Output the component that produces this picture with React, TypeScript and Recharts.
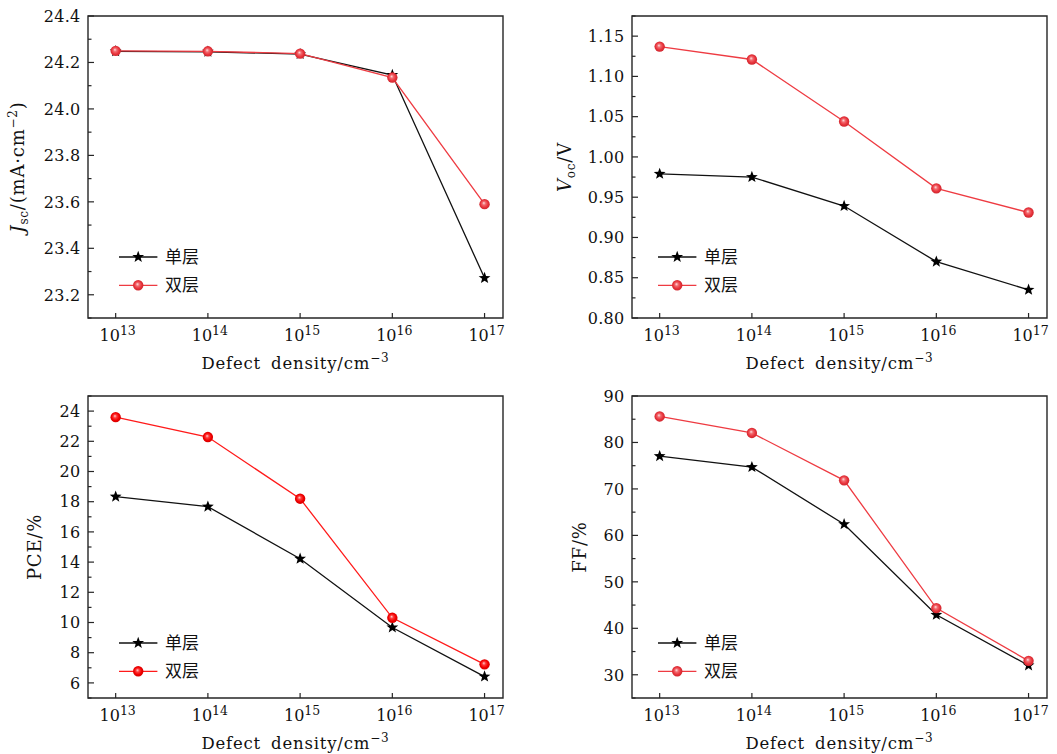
import React from 'react';
import { LineChart, Line, XAxis, YAxis, ReferenceArea, Legend } from 'recharts';

// ---------- data ----------
const exponents = [13, 14, 15, 16, 17];
const seriesNames = ['单层', '双层'];

const jscSingle = [24.248, 24.246, 24.236, 24.146, 23.272];
const jscDouble = [24.25, 24.248, 24.238, 24.135, 23.59];
const vocSingle = [0.979, 0.975, 0.939, 0.87, 0.835];
const vocDouble = [1.137, 1.121, 1.044, 0.961, 0.931];
const pceSingle = [18.33, 17.67, 14.22, 9.67, 6.42];
const pceDouble = [23.6, 22.28, 18.2, 10.31, 7.23];
const ffSingle = [77.05, 74.7, 62.4, 42.9, 32.0];
const ffDouble = [85.6, 82.05, 71.85, 44.35, 33.0];

const jscMajor = [23.2, 23.4, 23.6, 23.8, 24.0, 24.2, 24.4];
const jscMinor = [23.1, 23.3, 23.5, 23.7, 23.9, 24.1, 24.3];
const vocMajor = [0.8, 0.85, 0.9, 0.95, 1.0, 1.05, 1.1, 1.15];
const vocMinor = [0.825, 0.875, 0.925, 0.975, 1.025, 1.075, 1.125, 1.175];
const pceMajor = [6, 8, 10, 12, 14, 16, 18, 20, 22, 24];
const pceMinor = [5, 7, 9, 11, 13, 15, 17, 19, 21, 23, 25];
const ffMajor = [30, 40, 50, 60, 70, 80, 90];
const ffMinor = [25, 35, 45, 55, 65, 75, 85];

const xDomain = [12.7, 17.2];

// ---------- styles ----------
const SERIF = "'DejaVu Serif', 'Liberation Serif', serif";
const CJK = "'Noto Sans CJK SC', sans-serif";
const AXIS = '#262626';

const starPath = (cx: number, cy: number, R: number, r: number) => {
  let d = '';
  for (let i = 0; i < 10; i++) {
    const a = -Math.PI / 2 + (i * Math.PI) / 5;
    const rad = i % 2 === 0 ? R : r;
    d += (i === 0 ? 'M' : 'L') + (cx + rad * Math.cos(a)).toFixed(2) + ',' + (cy + rad * Math.sin(a)).toFixed(2);
  }
  return d + 'Z';
};

const Star = ({ cx, cy }: any) => <path d={starPath(cx, cy, 6.2, 2.6)} fill="#000" />;
const Ball = ({ cx, cy, grad }: any) => <circle cx={cx} cy={cy} r={5.2} fill={`url(#${grad})`} />;

const makeYTick = (majors: number[], decimals: number) => (p: any) => {
  const v = p.payload.value;
  const isMajor = majors.some((m) => Math.abs(m - v) < 1e-6);
  return (
    <g key={`yt-${v}`}>
      <line x1={p.x} x2={p.x + (isMajor ? 6 : 3.5)} y1={p.y} y2={p.y} stroke={AXIS} strokeWidth={1.2} />
      {isMajor && (
        <text x={p.x - 7.5} y={p.y} dy="0.36em" textAnchor="end" fontFamily={SERIF} fontSize={16} letterSpacing={0.3} fill="#111">
          {v.toFixed(decimals)}
        </text>
      )}
    </g>
  );
};

const renderXTick = (p: any) => {
  const v = p.payload.value;
  return (
    <g key={`xt-${v}`}>
      <line x1={p.x} x2={p.x} y1={p.y} y2={p.y - 5} stroke={AXIS} strokeWidth={1.2} />
      <text x={p.x + 2} y={p.y + 23} textAnchor="middle" fontFamily={SERIF} fontSize={16} fill="#111">
        <tspan>10</tspan>
        <tspan dy={-6.5} fontSize={12.5}>{v}</tspan>
      </text>
    </g>
  );
};

type PanelProps = {
  left: number;
  top: number;
  single: number[];
  double: number[];
  yDomain: number[];
  majors: number[];
  minors: number[];
  decimals: number;
  yLabel: React.ReactNode;
  yLabelX: number;
  legendLeft: number;
  legendTop: number;
  redLine: string;
  grad: string;
};

const W = 510;
const H = 380;
const MT = 16;
const YW = 88;
const XH = 62;
const PLOT_W = 415;
const PLOT_CX = YW + PLOT_W / 2;
const PLOT_CY = MT + (H - MT - XH) / 2;

const Panel = (props: PanelProps) => {
  const data = exponents.map((e, i) => ({ x: e, single: props.single[i], double: props.double[i] }));
  const ticks = [...props.majors, ...props.minors].sort((a, b) => a - b);
  const legendContent = () => (
    <svg width={110} height={60} style={{ display: 'block', overflow: 'visible' }}>
      <line x1={0} x2={38.4} y1={12} y2={12} stroke="#111" strokeWidth={1.3} />
      <path d={starPath(19.2, 12, 6.2, 2.6)} fill="#000" />
      <text x={46} y={12} dy="0.36em" fontFamily={CJK} fontSize={17} fill="#111">{seriesNames[0]}</text>
      <line x1={0} x2={38.4} y1={40.3} y2={40.3} stroke={props.redLine} strokeWidth={1.3} />
      <circle cx={19.2} cy={40.3} r={5.2} fill={`url(#${props.grad})`} />
      <text x={46} y={40.3} dy="0.36em" fontFamily={CJK} fontSize={17} fill="#111">{seriesNames[1]}</text>
    </svg>
  );
  return (
    <div style={{ position: 'absolute', left: props.left, top: props.top, width: W, height: H }}>
      <LineChart width={W} height={H} data={data} margin={{ top: MT, right: W - YW - PLOT_W, bottom: 0, left: 0 }}>
        <XAxis
          dataKey="x"
          type="number"
          domain={xDomain}
          ticks={exponents}
          interval={0}
          height={XH}
          axisLine={false}
          tickLine={false}
          tickSize={0}
          tickMargin={0}
          allowDataOverflow
          tick={renderXTick}
          label={{
            content: () => (
              <text x={PLOT_CX} y={369} textAnchor="middle" fontFamily={SERIF} fontSize={16.5} letterSpacing={0.8} wordSpacing={4} fill="#111">
                <tspan>Defect density/cm</tspan>
                <tspan dy={-7} fontSize={12}>−3</tspan>
              </text>
            ),
          }}
        />
        <YAxis
          type="number"
          domain={props.yDomain}
          ticks={ticks}
          interval={0}
          width={YW}
          axisLine={false}
          tickLine={false}
          tickSize={0}
          tickMargin={0}
          allowDataOverflow
          tick={makeYTick(props.majors, props.decimals)}
          label={{
            content: () => (
              <text
                x={0}
                y={0}
                transform={`translate(${props.yLabelX},${PLOT_CY}) rotate(-90)`}
                textAnchor="middle"
                dy="0.36em"
                fontFamily={SERIF}
                fontSize={18}
                letterSpacing={0.8}
                fill="#111"
              >
                {props.yLabel}
              </text>
            ),
          }}
        />
        <ReferenceArea
          x1={xDomain[0]}
          x2={xDomain[1]}
          y1={props.yDomain[0]}
          y2={props.yDomain[1]}
          fill="none"
          fillOpacity={0}
          stroke={AXIS}
          strokeWidth={1.4}
          strokeOpacity={1}
        />
        <Line
          dataKey="single"
          name={seriesNames[0]}
          stroke="#111"
          strokeWidth={1.3}
          isAnimationActive={false}
          dot={(p: any) => <Star key={`s-${p.index}`} cx={p.cx} cy={p.cy} />}
          activeDot={false}
        />
        <Line
          dataKey="double"
          name={seriesNames[1]}
          stroke={props.redLine}
          strokeWidth={1.3}
          isAnimationActive={false}
          dot={(p: any) => <Ball key={`d-${p.index}`} cx={p.cx} cy={p.cy} grad={props.grad} />}
          activeDot={false}
        />
        <Legend
          layout="vertical"
          align="center"
          verticalAlign="middle"
          content={legendContent}
          wrapperStyle={{ position: 'absolute', left: props.legendLeft, top: props.legendTop, width: 110, height: 60 }}
        />
      </LineChart>
    </div>
  );
};

const jscLabel = (
  <>
    <tspan fontStyle="italic">J</tspan>
    <tspan fontSize={12} dy={4}>sc</tspan>
    <tspan dy={-4}>/(mA·cm</tspan>
    <tspan fontSize={12} dy={-7}>−2</tspan>
    <tspan dy={7}>)</tspan>
  </>
);
const vocLabel = (
  <>
    <tspan fontStyle="italic">V</tspan>
    <tspan fontSize={12} dy={4}>oc</tspan>
    <tspan dy={-4}>/V</tspan>
  </>
);

export default function App() {
  return (
    <div style={{ position: 'absolute', left: 0, top: 0, width: 1057, height: 754, background: '#fff', overflow: 'hidden' }}>
      <svg width={0} height={0} style={{ position: 'absolute' }}>
        <defs>
          <radialGradient id="ballA" cx="0.5" cy="0.5" r="0.55" fx="0.42" fy="0.38">
            <stop offset="0" stopColor="#fde0e0" />
            <stop offset="0.3" stopColor="#f26a6f" />
            <stop offset="0.65" stopColor="#e8343c" />
            <stop offset="1" stopColor="#c8222a" />
          </radialGradient>
          <radialGradient id="ballB" cx="0.5" cy="0.5" r="0.55" fx="0.42" fy="0.38">
            <stop offset="0" stopColor="#ffd0d0" />
            <stop offset="0.3" stopColor="#ff3a3a" />
            <stop offset="0.65" stopColor="#f20000" />
            <stop offset="1" stopColor="#cc0000" />
          </radialGradient>
        </defs>
      </svg>
      <Panel
        left={0}
        top={0}
        single={jscSingle}
        double={jscDouble}
        yDomain={[23.1, 24.4]}
        majors={jscMajor}
        minors={jscMinor}
        decimals={1}
        yLabel={jscLabel}
        yLabelX={18}
        legendLeft={119.3}
        legendTop={244.7}
        redLine="#ee3b42"
        grad="ballA"
      />
      <Panel
        left={544}
        top={0}
        single={vocSingle}
        double={vocDouble}
        yDomain={[0.8, 1.175]}
        majors={vocMajor}
        minors={vocMinor}
        decimals={2}
        yLabel={vocLabel}
        yLabelX={21}
        legendLeft={114.3}
        legendTop={244.7}
        redLine="#ee3b42"
        grad="ballA"
      />
      <Panel
        left={0}
        top={380}
        single={pceSingle}
        double={pceDouble}
        yDomain={[5, 25]}
        majors={pceMajor}
        minors={pceMinor}
        decimals={0}
        yLabel={'PCE/%'}
        yLabelX={35}
        legendLeft={119.3}
        legendTop={251.3}
        redLine="#ff1a1a"
        grad="ballB"
      />
      <Panel
        left={544}
        top={380}
        single={ffSingle}
        double={ffDouble}
        yDomain={[25, 90]}
        majors={ffMajor}
        minors={ffMinor}
        decimals={0}
        yLabel={'FF/%'}
        yLabelX={36}
        legendLeft={114.3}
        legendTop={251.3}
        redLine="#ee3b42"
        grad="ballA"
      />
    </div>
  );
}
